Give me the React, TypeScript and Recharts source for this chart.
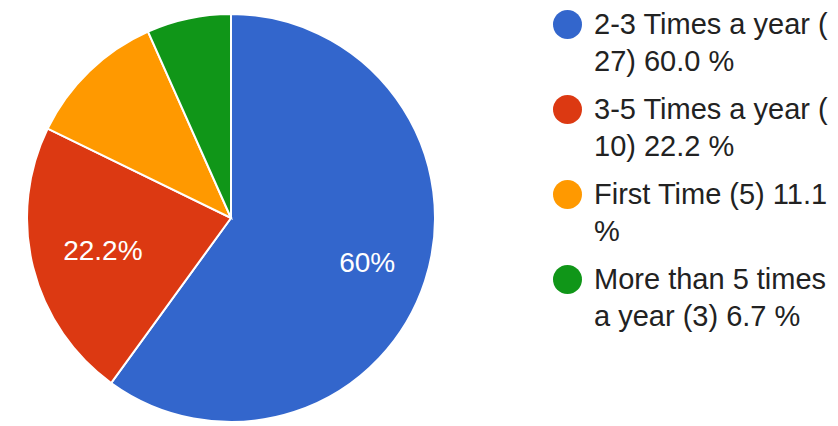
import { PieChart, Pie, Cell, Legend } from "recharts";

const categories = ["2-3 Times a year", "3-5 Times a year", "First Time", "More than 5 times a year"];
const counts = [27, 10, 5, 3];
const shares = [60.0, 22.2, 11.1, 6.7];
// the legend wraps oddly in the original, so keep its lines as shown
const legendLines = [
  ["2-3 Times a year (", "27) 60.0 %"],
  ["3-5 Times a year (", "10) 22.2 %"],
  ["First Time (5) 11.1", "%"],
  ["More than 5 times", "a year (3) 6.7 %"],
];
const COLORS = ["#3366cc", "#dc3912", "#ff9900", "#109618"];

const FONT = "Arial, 'Liberation Sans', sans-serif";
const FS = 28;
const LEGEND_FS = 29;
const RADIAN = Math.PI / 180;

const data = categories.map((name, i) => ({ name, value: counts[i], share: shares[i] }));

let ctx: CanvasRenderingContext2D | null = null;
const textWidth = (s: string) => {
  if (!ctx) ctx = document.createElement("canvas").getContext("2d");
  if (!ctx) return s.length * FS * 0.56;
  ctx.font = `${FS}px ${FONT}`;
  return ctx.measureText(s).width;
};

const renderLabel = (p: any) => {
  // small slices get no label, like the original
  if (p.percent < 0.15) return null;
  const txt = `${+(p.percent * 100).toFixed(1)}%`;
  const c = Math.cos(-p.midAngle * RADIAN);
  const s = Math.sin(-p.midAngle * RADIAN);
  // push the label out until its far corner sits at ~85% of the radius
  const a = Math.sign(c) * textWidth(txt) / 2;
  const b = Math.sign(s) * FS * 0.716 / 2;
  const D = p.outerRadius * 0.848;
  const k = a * c + b * s;
  const r = -k + Math.sqrt(k * k - (a * a + b * b - D * D));
  const x = p.cx + r * c;
  const y = p.cy + r * s;
  return (
    <text x={x} y={y + FS * 0.716 / 2} fill="#fff" fontSize={FS} fontFamily={FONT} textAnchor="middle">
      {txt}
    </text>
  );
};

const LegendBox = () => (
  <div style={{ fontFamily: FONT, fontSize: LEGEND_FS, color: "#222", whiteSpace: "nowrap" }}>
    {legendLines.map((lines, i) => (
      <div key={i} style={{ position: "relative", height: 85, paddingLeft: 41, paddingTop: 6, boxSizing: "border-box" }}>
        <span style={{
          position: "absolute", left: 0, top: 10, width: 29, height: 29,
          borderRadius: "50%", background: COLORS[i],
        }} />
        {lines.map((l, j) => (
          <div key={j} style={{ lineHeight: "37px", height: 37 }}>{l}</div>
        ))}
      </div>
    ))}
  </div>
);

export default function App() {
  return (
    <div style={{ width: 838, height: 426, overflow: "hidden", position: "relative", background: "#fff" }}>
      <style>{`body{margin:0}`}</style>
      <PieChart width={838} height={426} margin={{ top: 0, right: 0, bottom: 0, left: 0 }}>
        <Pie
          data={data}
          dataKey="value"
          nameKey="name"
          cx={231}
          cy={218}
          outerRadius={204}
          startAngle={90}
          endAngle={-270}
          stroke="#fff"
          strokeWidth={2}
          label={renderLabel}
          labelLine={false}
          isAnimationActive={false}
        >
          {data.map((d, i) => <Cell key={d.name} fill={COLORS[i]} />)}
        </Pie>
        <Legend
          content={<LegendBox />}
          layout="vertical"
          verticalAlign="top"
          align="right"
          wrapperStyle={{ left: 553, top: 0, width: 285 }}
        />
      </PieChart>
    </div>
  );
}
